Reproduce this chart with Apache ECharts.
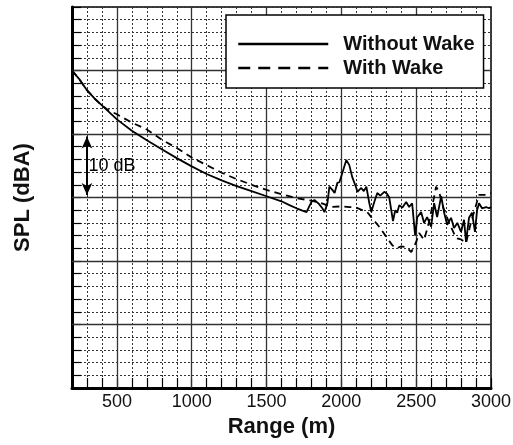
<!DOCTYPE html>
<html>
<head>
<meta charset="utf-8">
<script src="https://cdn.jsdelivr.net/npm/echarts@6/dist/echarts.min.js"></script>
<style>html,body{margin:0;padding:0;background:#fff;}#c{width:513px;height:445px;}</style>
</head>
<body>
<div id="c"></div>
<script>
// ---- data ----
var solidRange = [200,250,300,350,400,450,500,600,700,800,900,1000,1100,1200,1300,1400,1500,1600,1653,1700,1767,1800,1820,1850,1873,1887,1907,1920,1940,1955,1973,1987,2007,2033,2053,2073,2100,2107,2133,2150,2167,2187,2200,2220,2240,2260,2287,2305,2320,2345,2360,2373,2387,2407,2433,2453,2473,2493,2507,2533,2553,2573,2600,2620,2640,2667,2687,2707,2733,2753,2775,2800,2820,2833,2853,2873,2893,2907,2920,2940,2967,2987,3000];
var solidSPL = [50.0,48.6,46.9,45.6,44.5,43.4,42.3,40.5,39.0,37.6,36.2,34.9,33.7,32.7,31.8,31.0,30.2,29.4,28.8,28.3,27.7,29.3,29.6,29.0,28.3,27.7,29.1,31.7,31.2,30.7,32.3,32.4,33.9,35.9,35.1,33.2,31.5,30.9,31.5,31.0,31.7,29.1,27.7,29.3,30.7,30.3,30.9,30.6,30.0,26.3,28.0,27.6,28.8,28.4,29.3,28.5,29.1,24.0,26.9,27.7,26.0,26.9,25.4,29.1,26.9,30.2,27.6,25.7,26.8,25.2,26.0,24.6,26.5,23.0,26.8,27.6,24.6,28.0,29.1,28.3,28.5,28.3,28.5];

var wakeRange = [200,250,300,350,400,440,500,600,700,800,900,1000,1100,1200,1300,1400,1500,1600,1700,1800,1880,1933,2000,2053,2100,2173,2200,2253,2300,2340,2367,2400,2433,2467,2500,2520,2553,2590,2633,2653,2680,2720,2767,2800,2833,2860,2890,2920,2967,3000];
var wakeSPL = [50.0,48.6,46.9,45.6,44.5,43.8,43.1,41.8,40.7,39.1,37.8,36.3,35.1,33.9,32.9,32.0,31.2,30.5,29.9,29.5,29.0,28.5,28.6,28.5,28.4,27.7,26.9,25.4,23.8,22.5,22.0,22.3,22.2,21.4,23.0,24.4,23.3,26.5,31.7,30.9,28.5,26.0,23.6,23.4,22.8,25.5,28.0,30.4,30.4,30.7];

var xMajorTicks = [500,1000,1500,2000,2500,3000];
var yMajorLevels = [10,20,30,40,50];
var seriesNames = ['Without Wake','With Wake'];
var arrowRange = 300;
var arrowSpan = [30.4, 39.6];
var arrowLabel = '10 dB';

function pairs(xs, ys){ return xs.map(function(x,i){ return [x, ys[i]]; }); }

var FONT = "'Liberation Sans', Arial, sans-serif";
var chart = echarts.init(document.getElementById('c'), null, {renderer:'canvas'});

var gridMarks = xMajorTicks.filter(function(v){return v<3000;}).map(function(v){return {xAxis:v};})
  .concat(yMajorLevels.map(function(v){return {yAxis:v};}));

var option = {
  animation:false,
  backgroundColor:'#fff',
  grid:{left:72,right:22,top:7,bottom:57,show:true,borderColor:'#000',borderWidth:1.5,containLabel:false,outerBoundsMode:'none'},
  legend:{
    data:[
      {name:seriesNames[0], lineStyle:{type:'solid',width:2.5}},
      {name:seriesNames[1], lineStyle:{type:[12,8],width:2.5}}
    ],
    orient:'vertical',
    left:226, top:15,
    padding:[19,9,10,11],
    itemGap:4,
    itemWidth:90, itemHeight:20,
    backgroundColor:'#fff',
    borderColor:'#000', borderWidth:1.5,
    selectedMode:false,
    itemStyle:{opacity:0, borderWidth:0},
    textStyle:{fontFamily:FONT,fontSize:20,fontWeight:'bold',color:'#111',lineHeight:20,padding:[0,0,0,10]},
    lineStyle:{width:2.5}
  },
  xAxis:{
    type:'value', min:200, max:3000, interval:100,
    name:'Range (m)', nameLocation:'middle', nameGap:27,
    nameTextStyle:{fontFamily:FONT,fontSize:22,fontWeight:'bold',color:'#111'},
    axisLine:{show:true,onZero:false,lineStyle:{color:'#000',width:3}},
    axisTick:{show:true,inside:true,length:10,lineStyle:{color:'#000',width:1.2}},
    axisLabel:{fontFamily:FONT,fontSize:18,color:'#111',margin:5,showMaxLabel:true,showMinLabel:true,
      formatter:function(v){ return xMajorTicks.indexOf(v)>=0 ? String(v) : ''; }},
    splitLine:{show:true,lineStyle:{color:'#333',width:1,type:[2,2]}}
  },
  yAxis:{
    type:'value', min:0, max:60, interval:2,
    name:'SPL (dBA)', nameLocation:'middle', nameGap:38,
    nameTextStyle:{fontFamily:FONT,fontSize:22,fontWeight:'bold',color:'#111'},
    axisLine:{show:true,onZero:false,lineStyle:{color:'#000',width:3}},
    axisTick:{show:true,inside:true,length:9,lineStyle:{color:'#000',width:1.2}},
    axisLabel:{show:false},
    splitLine:{show:true,lineStyle:{color:'#333',width:1,type:[2,2]}}
  },
  series:[
    {
      name:'grid', type:'line', data:pairs(solidRange, solidSPL), showSymbol:false, silent:true,
      lineStyle:{opacity:0}, z:1,
      markLine:{silent:true, symbol:['none','none'], z:1, label:{show:false},
        lineStyle:{color:'#333',type:'solid',width:1.3}, data:gridMarks, animation:false}
    },
    {
      name:seriesNames[0], type:'line', data:pairs(solidRange, solidSPL), showSymbol:false, symbol:'none',
      lineStyle:{color:'#000',width:1.8,type:'solid'}, itemStyle:{color:'#000'}, z:3,
      markLine:{silent:true, symbol:['arrow','arrow'], symbolSize:[8,12], label:{show:false},
        lineStyle:{color:'#000',type:'solid',width:2},
        data:[[{coord:[arrowRange,arrowSpan[0]]},{coord:[arrowRange,arrowSpan[1]]}]], animation:false},
      markPoint:{silent:true, symbol:'rect', symbolSize:1, itemStyle:{color:'rgba(0,0,0,0)'},
        label:{show:true,position:'right',distance:0,formatter:arrowLabel,fontFamily:FONT,fontSize:18,color:'#000'},
        data:[{coord:[arrowRange+7,(arrowSpan[0]+arrowSpan[1])/2]}], animation:false}
    },
    {
      name:seriesNames[1], type:'line', data:pairs(wakeRange, wakeSPL), showSymbol:false, symbol:'none',
      lineStyle:{color:'#000',width:1.8,type:[7,5]}, itemStyle:{color:'#000'}, z:3
    }
  ]
};
chart.setOption(option);
</script>
</body>
</html>
